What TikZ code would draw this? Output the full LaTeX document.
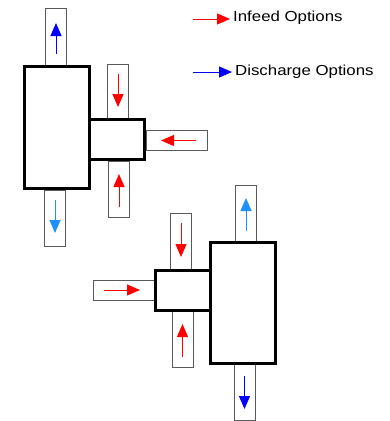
\documentclass[tikz,border=0pt]{standalone}
\usepackage{fontspec}
\setmainfont{Liberation Sans}
\usetikzlibrary{arrows.meta}
\definecolor{lblue}{RGB}{30,144,255}
\definecolor{slotgray}{RGB}{90,90,90}
\tikzset{
  slot/.style={draw=slotgray, line width=1pt, fill=white, inner sep=0pt, outer sep=0pt},
  unit/.style={draw=black, line width=3.4pt, fill=white, inner sep=0pt, outer sep=0pt},
  flow/.style={line width=1pt, -{Triangle[length=13pt,width=11pt]}},
  lbl/.style={anchor=west, inner sep=0pt, font=\fontsize{14.5pt}{16pt}\selectfont}
}
\begin{document}
\begin{tikzpicture}[x=1pt,y=-1pt]
\useasboundingbox (0,0) rectangle (390,421);
% top-left assembly
\node[slot, minimum width=21pt, minimum height=57pt] (sA) at (56,37) {};
\node[slot, minimum width=21pt, minimum height=56pt] (sB) at (55,218) {};
\node[slot, minimum width=21pt, minimum height=56pt] (sC) at (118,92) {};
\node[slot, minimum width=61pt, minimum height=19.5pt] (sD) at (176.5,140.5) {};
\node[slot, minimum width=21pt, minimum height=56pt] (sE) at (119,189) {};
\node[unit, minimum width=54.8pt, minimum height=40pt] (u1s) at (116.9,139.5) {};
\node[unit, minimum width=65pt, minimum height=122pt] (u1) at (57,127.5) {};
% bottom-right assembly
\node[slot, minimum width=21pt, minimum height=58pt] (sF) at (245.5,214) {};
\node[slot, minimum width=21pt, minimum height=57pt] (sG) at (244.5,391.5) {};
\node[slot, minimum width=21.5pt, minimum height=58pt] (sH) at (181,242) {};
\node[slot, minimum width=63pt, minimum height=20pt] (sI) at (124.5,290) {};
\node[slot, minimum width=21pt, minimum height=57pt] (sJ) at (182.5,338.5) {};
\node[unit, minimum width=55pt, minimum height=40pt] (u2s) at (183.2,290.5) {};
\node[unit, minimum width=65pt, minimum height=121pt] (u2) at (243,303) {};
% arrow end points
\coordinate (a1) at (56,54); \coordinate (a2) at (56,23);
\coordinate (b1) at (55,200); \coordinate (b2) at (55,233);
\coordinate (c1) at (118,74); \coordinate (c2) at (118,107);
\coordinate (d1) at (196,140.5); \coordinate (d2) at (161,140.5);
\coordinate (e1) at (119,207); \coordinate (e2) at (119,174);
\coordinate (f1) at (246,231); \coordinate (f2) at (246,198);
\coordinate (g1) at (244.5,376); \coordinate (g2) at (244.5,409);
\coordinate (h1) at (181,223); \coordinate (h2) at (181,257);
\coordinate (i1) at (104,290); \coordinate (i2) at (140,290);
\coordinate (j1) at (182.5,357); \coordinate (j2) at (182.5,324);
\draw[flow, blue] (a1) -- (a2);
\draw[flow, lblue] (b1) -- (b2);
\draw[flow, red] (c1) -- (c2);
\draw[flow, red] (d1) -- (d2);
\draw[flow, red] (e1) -- (e2);
\draw[flow, lblue] (f1) -- (f2);
\draw[flow, blue] (g1) -- (g2);
\draw[flow, red] (h1) -- (h2);
\draw[flow, red] (i1) -- (i2);
\draw[flow, red] (j1) -- (j2);
% legend
\node[lbl] (t1) at (233,18) {\scalebox{1.16}[1]{Infeed Options}};
\node[lbl] (t2) at (235,72) {\scalebox{1.16}[1]{Discharge Options}};
\coordinate (l1) at (193,19); \coordinate (l2) at (193,72);
\draw[flow, red] (l1) -- ([xshift=-3pt]t1.west |- l1);
\draw[flow, blue] (l2) -- ([xshift=-3pt]t2.west);
\end{tikzpicture}
\end{document}
